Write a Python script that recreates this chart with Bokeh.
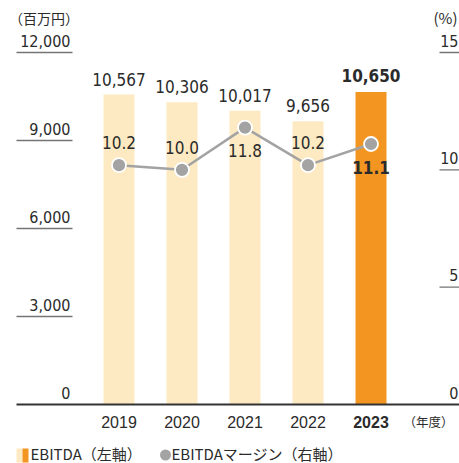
from bokeh.plotting import figure
from bokeh.models import Range1d
from bokeh.embed import file_html
from bokeh.resources import INLINE
from bokeh.core.properties import value

# ---- data ----
years = ["2019", "2020", "2021", "2022", "2023"]
ebitda = [10567, 10306, 10017, 9656, 10650]
margin = [10.2, 10.0, 11.8, 10.2, 11.1]
margin_labels = ["10.2", "10.0", "11.8", "10.2", "11.1"]
left_ticks = [0, 3000, 6000, 9000, 12000]
left_tick_labels = ["0", "3,000", "6,000", "9,000", "12,000"]
right_ticks = [0, 5, 10, 15]
right_tick_labels = ["0", "5", "10", "15"]
left_unit = "（百万円）"
right_unit = "(%)"
x_unit = "（年度）"
legend_bar = "EBITDA（左軸）"
legend_line = "EBITDAマージン（右軸）"

# ---- layout helpers ----
W, H = 459, 463
STEP = 63.0
X0 = 118.5
PPU = 352 / 12000.0
Y0 = 404
RSCALE = 800.0  # left units per right unit
SH = -7  # text baseline correction (px)


def fx(px):
    return (px - X0) / STEP


def fy(py):
    return (Y0 - py) / PPU


LIGHT = "#FDEAC2"
ORANGE = "#F39621"
GRAY = "#A3A3A3"
TXT = "#2B2B2B"
NUM_FONT = value("Liberation Sans Narrow, DejaVu Sans Condensed, Roboto Condensed, Roboto")
YEAR_FONT = value("Liberation Sans")
JP_FONT = value("Noto Sans CJK JP")

idx = list(range(len(years)))
highlight = len(years) - 1
bar_colors = [ORANGE if i == highlight else LIGHT for i in idx]

p = figure(width=W, height=H, output_backend="svg", toolbar_location=None,
           x_range=Range1d(fx(0), fx(W)), y_range=Range1d(fy(H), fy(0)),
           x_axis_location=None, y_axis_location=None, min_border=0)
p.extra_y_ranges = {"pct": Range1d(fy(H) / RSCALE, fy(0) / RSCALE)}
p.outline_line_color = None
p.grid.visible = False
p.background_fill_color = "white"
p.border_fill_color = "white"

# grid tick lines
p.segment(x0=fx(16), x1=fx(72), y0=left_ticks[1:], y1=left_ticks[1:],
          line_color="#757575", line_width=1.3)
p.segment(x0=fx(439), x1=fx(460), y0=right_ticks[1:], y1=right_ticks[1:],
          line_color="#757575", line_width=1.3, y_range_name="pct")

# bars
p.vbar(x=idx, top=ebitda, width=31 / STEP, bottom=0, fill_color=bar_colors,
       line_color=None)

# baseline
p.segment(x0=[fx(16)], x1=[fx(460)], y0=[0], y1=[0], line_color="#333333", line_width=1.8)

# line + markers
p.line(idx, margin, y_range_name="pct", line_color=GRAY, line_width=2.5)
p.scatter(idx, margin, y_range_name="pct", size=14, fill_color=GRAY,
          line_color="white", line_width=1.8)

# bar value labels
reg = [i for i in idx if i != highlight]
p.text(x=[idx[i] for i in reg], y=[ebitda[i] for i in reg],
       text=[f"{ebitda[i]:,}" for i in reg], text_align="center",
       text_baseline="alphabetic", y_offset=-8.5 + SH, text_font=NUM_FONT,
       text_font_size="17px", text_color=TXT)
p.text(x=[highlight], y=[ebitda[highlight]], text=[f"{ebitda[highlight]:,}"],
       text_align="center", text_baseline="alphabetic", y_offset=-10 + SH,
       text_font=NUM_FONT, text_font_size="17px", text_font_style="bold",
       text_color=TXT)

# margin labels (above / below markers)
place_below = [False, False, True, False, True]
offs = [30 if b else -15.5 for b in place_below]
for i in idx:
    p.text(x=[i], y=[margin[i]], text=[margin_labels[i]], y_range_name="pct",
           text_align="center", text_baseline="alphabetic", y_offset=offs[i] + SH,
           text_font=NUM_FONT, text_font_size="17px",
           text_font_style="bold" if i == highlight else "normal", text_color=TXT)

# left tick labels
p.text(x=fx(70), y=left_ticks, text=left_tick_labels, text_align="right",
       text_baseline="alphabetic", y_offset=-5 + SH, text_font=NUM_FONT,
       text_font_size="16px", text_color=TXT)
# right tick labels
p.text(x=fx(458), y=right_ticks, text=right_tick_labels, y_range_name="pct",
       text_align="right", text_baseline="alphabetic", y_offset=-5 + SH,
       text_font=NUM_FONT, text_font_size="16px", text_color=TXT)

# year labels
p.text(x=[i for i in reg], y=fy(428), text=[years[i] for i in reg],
       text_align="center", text_baseline="alphabetic", y_offset=SH,
       text_font=YEAR_FONT, text_font_size="16px", text_color=TXT)
p.text(x=[highlight], y=fy(428), text=[years[highlight]], text_align="center",
       text_baseline="alphabetic", y_offset=SH, text_font=YEAR_FONT,
       text_font_size="16px", text_font_style="bold", text_color=TXT)

# units
p.text(x=[fx(428)], y=[fy(428)], text=[x_unit], text_align="center",
       text_baseline="alphabetic", y_offset=SH, text_font=JP_FONT,
       text_font_size="12.5px", text_color=TXT)
p.text(x=[fx(43.5)], y=[fy(24)], text=[left_unit], text_align="center",
       text_baseline="alphabetic", y_offset=SH, text_font=JP_FONT,
       text_font_size="14px", text_color=TXT)
p.text(x=[fx(445)], y=[fy(24)], text=[right_unit], text_align="center",
       text_baseline="alphabetic", y_offset=SH, text_font=JP_FONT,
       text_font_size="15px", text_color=TXT)

# legend
LY = 460
p.quad(left=[fx(16)], right=[fx(22)], top=[fy(LY - 12)], bottom=[fy(LY + 2)],
       fill_color=LIGHT, line_color=None)
p.quad(left=[fx(22)], right=[fx(28)], top=[fy(LY - 12)], bottom=[fy(LY + 2)],
       fill_color=ORANGE, line_color=None)
p.text(x=[fx(30)], y=[fy(LY)], text=[legend_bar], text_align="left",
       text_baseline="alphabetic", y_offset=SH, text_font=JP_FONT,
       text_font_size="15px", text_color=TXT)
p.scatter(x=[fx(165)], y=[fy(LY - 5.5)], size=11, fill_color=GRAY, line_color=None)
p.text(x=[fx(171)], y=[fy(LY)], text=[legend_line], text_align="left",
       text_baseline="alphabetic", y_offset=SH, text_font=JP_FONT,
       text_font_size="15px", text_color=TXT)

open("out.html", "w").write(file_html(p, INLINE))
